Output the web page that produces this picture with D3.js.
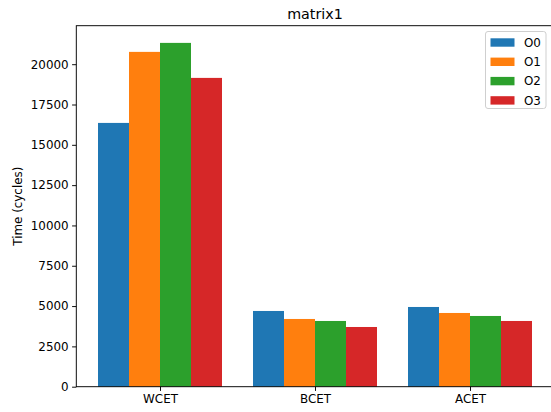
<!DOCTYPE html>
<html><head><meta charset="utf-8">
<script src="https://cdn.jsdelivr.net/npm/d3@7"></script>
<style>body{margin:0;background:#fff}svg{display:block;font-family:"DejaVu Sans",sans-serif}</style>
</head><body><svg id="c" width="551" height="412"></svg>
<script>
const categories = ["WCET","BCET","ACET"];
const seriesNames = ["O0","O1","O2","O3"];
const O0 = [16358, 4696, 4944];
const O1 = [20763, 4200, 4572];
const O2 = [21321, 4076, 4386];
const O3 = [19150, 3703, 4076];
const yTicks = [0,2500,5000,7500,10000,12500,15000,17500,20000];
const colors = ["#1f77b4","#ff7f0e","#2ca02c","#d62728"];
const series = [O0,O1,O2,O3];

const svg = d3.select("#c");
const L=76.3, R=553.7, T=25.7, B=386.7;
const maxV = d3.max(series.flat());
const x = d3.scaleLinear().domain([-0.54, 2.54]).range([L,R]);
const y = d3.scaleLinear().domain([0, maxV*1.05]).range([B,T]);
const bw = 0.2;

series.forEach((s,si)=>{
  svg.append("g").selectAll("rect").data(s).join("rect")
    .attr("x",(d,i)=>x(i-0.4+si*bw))
    .attr("width",(d,i)=>x(i-0.4+(si+1)*bw)-x(i-0.4+si*bw))
    .attr("y",d=>y(d)).attr("height",d=>B-y(d))
    .attr("fill",colors[si]);
});

const yAxis = d3.axisLeft(y).tickValues(yTicks).tickSize(4.2).tickPadding(3.5).tickFormat(d3.format("d"));
const gy = svg.append("g").attr("transform",`translate(${L},0)`).call(yAxis);
gy.select(".domain").remove();
gy.selectAll("text").attr("font-size","11.9px").attr("fill","#000").attr("font-family","DejaVu Sans");
gy.selectAll("line").attr("stroke","#000").attr("stroke-width",0.95);

const xAxis = d3.axisBottom(x).tickValues([0,1,2]).tickFormat(i=>categories[i]).tickSize(4.2).tickPadding(3.5);
const gx = svg.append("g").attr("transform",`translate(0,${B})`).call(xAxis);
gx.select(".domain").remove();
gx.selectAll("text").attr("font-size","11.9px").attr("fill","#000").attr("font-family","DejaVu Sans");
gx.selectAll("line").attr("stroke","#000").attr("stroke-width",0.95);

// spines
svg.append("rect").attr("x",L).attr("y",T).attr("width",R-L).attr("height",B-T)
  .attr("fill","none").attr("stroke","#000").attr("stroke-width",0.95);

svg.append("text").attr("x",(L+R)/2).attr("y",T-6.5).attr("text-anchor","middle")
  .attr("font-size","14.3px").text("matrix1");
svg.append("text").attr("transform",`translate(22,${(T+B)/2}) rotate(-90)`).attr("text-anchor","middle")
  .attr("font-size","11.9px").text("Time (cycles)");

// legend
const lg = svg.append("g");
lg.append("rect").attr("x",485.5).attr("y",31.5).attr("width",60.5).attr("height",77).attr("rx",2.5)
  .attr("fill","#fff").attr("fill-opacity",0.8).attr("stroke","#ccc").attr("stroke-width",0.95);
seriesNames.forEach((n,i)=>{
  const cy = 42.5 + i*19.3;
  lg.append("rect").attr("x",490.5).attr("y",cy-4.2).attr("width",24).attr("height",8.4).attr("fill",colors[i]);
  lg.append("text").attr("x",524).attr("y",cy+4.3).attr("font-size","11.9px").text(n);
});
</script></body></html>
